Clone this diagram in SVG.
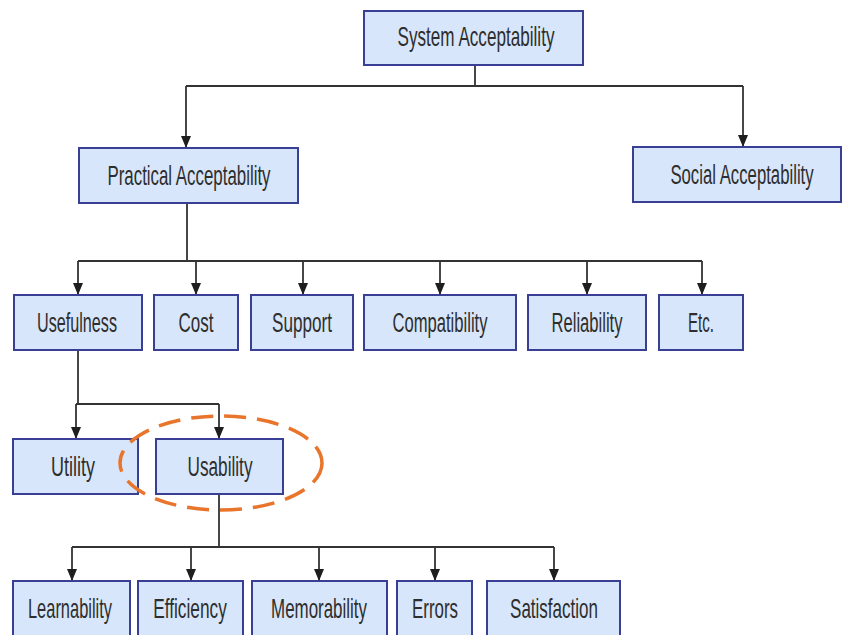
<svg xmlns="http://www.w3.org/2000/svg" width="842" height="635" viewBox="0 0 842 635">
  <defs>
    <marker id="arrow" viewBox="0 0 12 10" refX="12" refY="5" markerWidth="12" markerHeight="10" markerUnits="userSpaceOnUse" orient="auto">
      <path d="M0,0 L12,5 L0,10 Z" fill="#1e1e1e"/>
    </marker>
    <style>
      .box { fill: #D7E6FA; stroke: #3A3F96; stroke-width: 2; }
      .lbl { font-family: "Liberation Sans", Arial, sans-serif; font-size: 27px; fill: #2e2e2e; text-anchor: middle; }
      .wire { fill: none; stroke: #333; stroke-width: 1.8; }
      .tip { fill: none; stroke: #333; stroke-width: 1.8; marker-end: url(#arrow); }
      .focus { fill: none; stroke: #E8752B; stroke-width: 3.5; stroke-dasharray: 22 11; }
    </style>
  </defs>
  <rect width="842" height="635" fill="#fff"/>

  <!-- connectors -->
  <g id="connectors">
    <path class="wire" d="M475,65 V86 M186,86 H743"/>
    <path class="tip" d="M186,86 V148"/>
    <path class="tip" d="M743,86 V147"/>

    <path class="wire" d="M187,203 V261 M78,261 H702"/>
    <path class="tip" d="M78,261 V295"/>
    <path class="tip" d="M196,261 V295"/>
    <path class="tip" d="M303,261 V295"/>
    <path class="tip" d="M440,261 V295"/>
    <path class="tip" d="M587,261 V295"/>
    <path class="tip" d="M702,261 V295"/>

    <path class="wire" d="M78,350 V404 M76,404 H219"/>
    <path class="tip" d="M76,404 V439"/>
    <path class="tip" d="M219,404 V439"/>

    <path class="wire" d="M219,494 V547 M72,547 H554"/>
    <path class="tip" d="M72,547 V581"/>
    <path class="tip" d="M191,547 V581"/>
    <path class="tip" d="M319,547 V581"/>
    <path class="tip" d="M435,547 V581"/>
    <path class="tip" d="M554,547 V581"/>
  </g>

  <!-- top level -->
  <g id="system-acceptability">
    <rect class="box" x="364" y="11" width="219" height="54"/>
    <text class="lbl" transform="translate(476,46) scale(0.634,1)">System Acceptability</text>
  </g>

  <g id="practical-acceptability">
    <rect class="box" x="79" y="148" width="219" height="55"/>
    <text class="lbl" transform="translate(189,185) scale(0.625,1)">Practical Acceptability</text>
  </g>
  <g id="social-acceptability">
    <rect class="box" x="633" y="147" width="208" height="55"/>
    <text class="lbl" transform="translate(742,184) scale(0.62,1)">Social Acceptability</text>
  </g>

  <!-- practical acceptability attributes -->
  <g id="usefulness">
    <rect class="box" x="14" y="295" width="128" height="55"/>
    <text class="lbl" transform="translate(77,332) scale(0.6,1)">Usefulness</text>
  </g>
  <g id="cost">
    <rect class="box" x="154" y="295" width="84" height="55"/>
    <text class="lbl" transform="translate(196,332) scale(0.63,1)">Cost</text>
  </g>
  <g id="support">
    <rect class="box" x="251" y="295" width="102" height="55"/>
    <text class="lbl" transform="translate(302,332) scale(0.634,1)">Support</text>
  </g>
  <g id="compatibility">
    <rect class="box" x="364" y="295" width="152" height="55"/>
    <text class="lbl" transform="translate(440,332) scale(0.615,1)">Compatibility</text>
  </g>
  <g id="reliability">
    <rect class="box" x="528" y="295" width="118" height="55"/>
    <text class="lbl" transform="translate(587,332) scale(0.615,1)">Reliability</text>
  </g>
  <g id="etc">
    <rect class="box" x="659" y="295" width="84" height="55"/>
    <text class="lbl" transform="translate(701,332) scale(0.56,1)">Etc.</text>
  </g>

  <!-- usefulness split -->
  <g id="utility">
    <rect class="box" x="13" y="439" width="125" height="55"/>
    <text class="lbl" transform="translate(73,476) scale(0.667,1)">Utility</text>
  </g>
  <g id="usability">
    <rect class="box" x="156" y="439" width="127" height="55"/>
    <text class="lbl" transform="translate(220,476) scale(0.637,1)">Usability</text>
  </g>
  <ellipse id="usability-highlight" class="focus" cx="221" cy="463" rx="101" ry="47"/>

  <!-- usability attributes -->
  <g id="learnability">
    <rect class="box" x="13" y="581" width="117" height="60"/>
    <text class="lbl" transform="translate(70,618) scale(0.609,1)">Learnability</text>
  </g>
  <g id="efficiency">
    <rect class="box" x="138" y="581" width="105" height="60"/>
    <text class="lbl" transform="translate(190,618) scale(0.64,1)">Efficiency</text>
  </g>
  <g id="memorability">
    <rect class="box" x="252" y="581" width="135" height="60"/>
    <text class="lbl" transform="translate(319,618) scale(0.627,1)">Memorability</text>
  </g>
  <g id="errors">
    <rect class="box" x="397" y="581" width="75" height="60"/>
    <text class="lbl" transform="translate(435,618) scale(0.626,1)">Errors</text>
  </g>
  <g id="satisfaction">
    <rect class="box" x="487" y="581" width="133" height="60"/>
    <text class="lbl" transform="translate(554,618) scale(0.63,1)">Satisfaction</text>
  </g>
</svg>
